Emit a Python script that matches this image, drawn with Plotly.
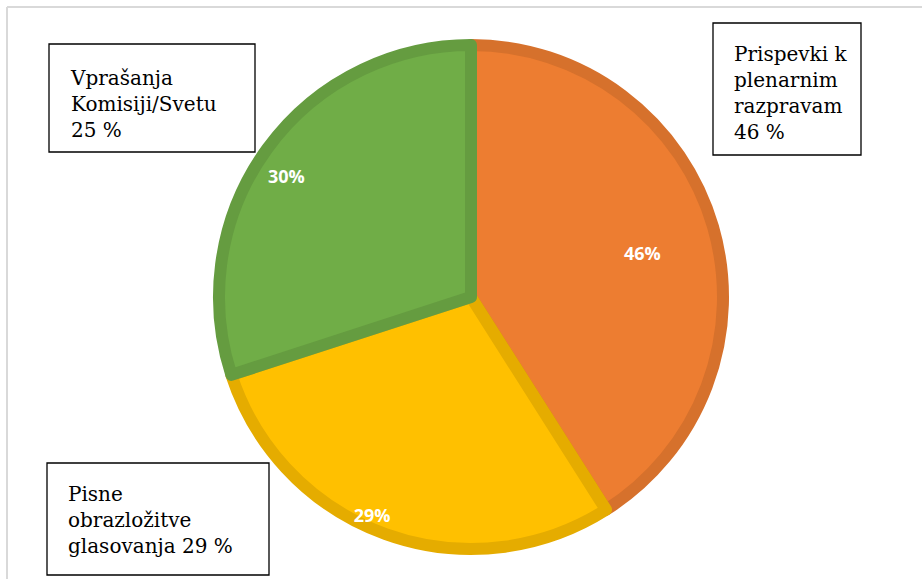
import plotly.graph_objects as go

# Data
categories = ["Prispevki k plenarnim razpravam", "Pisne obrazložitve glasovanja", "Vprašanja Komisiji/Svetu"]
slice_values = [41, 29, 30]          # slice sizes as drawn
slice_labels = ["46%", "29%", "30%"]  # data labels as printed
fill_colors = ["#ED7D31", "#FFC000", "#70AD47"]
edge_colors = ["#D6712C", "#E5AC00", "#659C40"]

box_texts = [
    "Prispevki k<br>plenarnim<br>razpravam<br>46 %",
    "Pisne<br>obrazložitve<br>glasovanja 29 %",
    "Vprašanja<br>Komisiji/Svetu<br>25 %",
]

W, H = 922, 579


def px(x):
    return x / W


def py(y):
    return 1 - y / H


cx, cy = 471, 297
r_main = 252
edge_w = 12


def dom(r):
    return dict(x=[px(cx - r), px(cx + r)], y=[py(cy + r), py(cy - r)])


fig = go.Figure()
fig.add_trace(go.Pie(
    labels=categories,
    values=slice_values,
    textinfo="none",
    marker=dict(colors=fill_colors, line=dict(color=edge_colors, width=edge_w)),
    sort=False,
    direction="clockwise",
    rotation=0,
    showlegend=False,
    hoverinfo="label+percent",
    domain=dom(r_main),
))

# data labels: outside text of invisible pies sharing the same slices
label_radii = [153, 220, 198]
for i, rr in enumerate(label_radii):
    txt = [slice_labels[j] if j == i else "" for j in range(len(slice_labels))]
    fig.add_trace(go.Pie(
        labels=categories,
        values=slice_values,
        text=txt,
        textinfo="text",
        textposition="outside",
        textfont=dict(family="Open Sans", size=18, color="white", weight="bold"),
        marker=dict(colors=["rgba(0,0,0,0)"] * 3, line=dict(width=0)),
        sort=False,
        direction="clockwise",
        rotation=0,
        showlegend=False,
        hoverinfo="skip",
        domain=dom(rr),
    ))

boxes = [(713, 23, 861, 155), (47, 463, 269, 575), (49, 44, 255, 152)]
text_cy = [93, 520, 104]
shapes = []
annotations = []
for (x0, y0, x1, y1), t, tc in zip(boxes, box_texts, text_cy):
    shapes.append(dict(type="rect", xref="paper", yref="paper",
                       x0=px(x0), x1=px(x1), y0=py(y1), y1=py(y0),
                       line=dict(color="black", width=1.3), fillcolor="white", layer="above"))
    annotations.append(dict(xref="paper", yref="paper", x=px(x0 + 19), y=py(tc),
                            xanchor="left", yanchor="middle", align="left", showarrow=False,
                            text=t, font=dict(family="DejaVu Serif", size=20, color="black")))

# chart frame (left and top edges)
shapes.append(dict(type="line", xref="paper", yref="paper", x0=px(7), x1=px(7), y0=-0.05, y1=py(7),
                   line=dict(color="#D9D9D9", width=2)))
shapes.append(dict(type="line", xref="paper", yref="paper", x0=px(7), x1=1.05, y0=py(7), y1=py(7),
                   line=dict(color="#D9D9D9", width=2)))

fig.update_layout(
    width=W, height=H,
    margin=dict(l=0, r=0, t=0, b=0),
    paper_bgcolor="white",
    plot_bgcolor="white",
    shapes=shapes,
    annotations=annotations,
)

fig.write_html("out.html", config={"displayModeBar": False},
               post_script="document.body.style.margin='0';")
